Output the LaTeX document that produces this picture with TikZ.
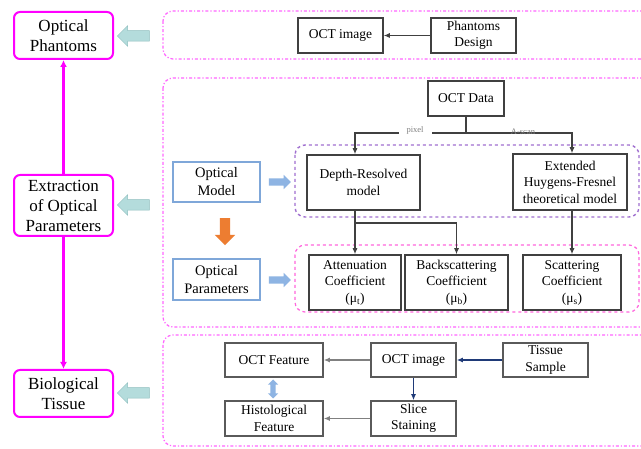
\documentclass[tikz,border=0pt]{standalone}
\usepackage{fontspec}
\setmainfont{Liberation Serif}
\usetikzlibrary{shapes.arrows,arrows.meta,calc}
\definecolor{mag}{HTML}{FF00FF}
\definecolor{regc}{HTML}{FF66FF}
\definecolor{purc}{HTML}{A070D0}
\definecolor{pinkc}{HTML}{FF66DD}
\definecolor{boxc}{HTML}{404040}
\definecolor{lowc}{HTML}{5A5A5A}
\definecolor{bluec}{HTML}{7FA7D9}
\definecolor{barr}{HTML}{8EB4E3}
\definecolor{tealc}{HTML}{B4DCDC}
\definecolor{teald}{HTML}{8FBFBF}
\definecolor{orangec}{HTML}{ED7D31}
\definecolor{navy}{HTML}{1F3A78}
\definecolor{grayarr}{HTML}{808080}
\tikzset{
 lbox/.style={draw=mag, line width=2pt, rounded corners=6pt, fill=white, align=center, font=\fontsize{17}{20}\selectfont, inner sep=0pt},
 box/.style={draw=boxc, line width=1.5pt, fill=white, align=center, font=\fontsize{13.5}{16.5}\selectfont, inner sep=0pt},
 lowbox/.style={draw=lowc, line width=1.5pt, fill=white, align=center, font=\fontsize{13.5}{16.5}\selectfont, inner sep=0pt},
 bbox/.style={draw=bluec, line width=1.3pt, fill=white, align=center, font=\fontsize{14.5}{18}\selectfont, inner sep=0pt},
 region/.style={draw=regc, line width=1.2pt, dash dot, rounded corners=10pt},
 purreg/.style={draw=purc, line width=1.4pt, dashed, rounded corners=10pt},
 pinkreg/.style={draw=pinkc, line width=1.2pt, dashed, rounded corners=10pt},
 tarrow/.style={single arrow, shape border rotate=180, fill=tealc, draw=teald, line width=0.5pt, inner sep=5pt, single arrow head extend=5pt, minimum height=32pt},
 barrow/.style={single arrow, fill=barr, draw=none, inner sep=3.5pt, single arrow head extend=3.5pt, minimum height=22pt},
 oarrow/.style={single arrow, shape border rotate=270, fill=orangec, draw=none, inner sep=5pt, single arrow head extend=5pt, minimum height=27pt},
 darrow/.style={double arrow, shape border rotate=90, fill=barr, draw=none, inner sep=2.5pt, double arrow head extend=2.5pt, minimum height=19pt},
 arr/.style={draw=boxc, line width=1.1pt, -{Latex[length=6pt,width=5pt]}},
 navarr/.style={draw=navy, line width=1.2pt, -{Latex[length=6pt,width=5pt]}},
 grarr/.style={draw=grayarr, line width=1.2pt, -{Latex[length=6pt,width=5pt]}},
 magarr/.style={draw=mag, line width=2.5pt, -{Latex[length=7pt,width=7pt]}},
 lbl/.style={font=\fontsize{8.5}{9}\selectfont, text=gray, inner sep=1pt}
}
\begin{document}
\begin{tikzpicture}[x=1pt,y=-1pt]
\useasboundingbox (0,0) rectangle (641,449);
\clip (0,0) rectangle (641,449);
\fill[white] (0,0) rectangle (641,449);
% regions
\draw[region] (163,11) rectangle (670,59);
\draw[region] (163,78) rectangle (670,327);
\draw[region] (163,335) rectangle (670,446);
\draw[purreg] (295,145) rectangle (639,217);
\draw[pinkreg] (295,245) rectangle (639,312);
% left column
\node[lbox, minimum width=99pt, minimum height=47pt] (phant) at (63.5,35.5) {Optical\\Phantoms};
\node[lbox, minimum width=99pt, minimum height=61pt] (extr) at (63.5,205.5) {Extraction\\of Optical\\Parameters};
\node[lbox, minimum width=99pt, minimum height=47pt] (bio) at (63.5,393.5) {Biological\\Tissue};
\draw[magarr] (extr.north) -- (phant.south);
\draw[magarr] (extr.south) -- (bio.north);
\node[tarrow] (ta1) at (136,36) {};
\node[tarrow] (ta2) at (136,205) {};
\node[tarrow] (ta3) at (136,393) {};
% top section
\node[box, minimum width=85pt, minimum height=35pt] (octimg1) at (340.5,35.5) {OCT image};
\node[box, minimum width=85pt, minimum height=35pt] (pdesign) at (473.5,35.5) {Phantoms\\Design};
\draw[arr] (pdesign) -- (octimg1);
% middle section
\node[box, minimum width=76pt, minimum height=35pt] (octdata) at (466,98.5) {OCT Data};
\node[box, minimum width=113pt, minimum height=55pt] (depth) at (363.5,182.5) {Depth-Resolved\\model};
\node[box, minimum width=114pt, minimum height=56pt] (ehf) at (570,182) {Extended\\Huygens-Fresnel\\theoretical model};
\node[box, minimum width=92pt, minimum height=55pt] (atten) at (355,282.5) {Attenuation\\Coefficient\\(μ\textsubscript{t})};
\node[box, minimum width=103pt, minimum height=55pt] (back) at (456.5,282.5) {Backscattering\\Coefficient\\(μ\textsubscript{b})};
\node[box, minimum width=98pt, minimum height=55pt] (scat) at (572,282.5) {Scattering\\Coefficient\\(μ\textsubscript{s})};
\coordinate (split) at (466,133);
\coordinate (br) at (355,223);
\draw[boxc, line width=1.1pt] (octdata.south) -- (split);
\draw[arr] (split) -| ([xshift=-8.5pt]depth.north);
\draw[arr] (split) -| ([xshift=2pt]ehf.north);
\node[lbl, fill=white, inner xsep=8pt] (pix) at (415,130.5) {pixel};
\node[lbl] (asc) at (523,131.5) {A-scan};
\draw[arr] ([xshift=-8.5pt]depth.south) -- (atten.north);
\draw[arr] (br) -| (back.north);
\draw[arr] ([xshift=2pt]ehf.south) -- (scat.north);
\node[bbox, minimum width=87pt, minimum height=40pt] (omodel) at (216.5,182) {Optical\\Model};
\node[bbox, minimum width=87pt, minimum height=41pt] (oparam) at (216.5,279.5) {Optical\\Parameters};
\node[barrow] (ba1) at (278,182) {};
\node[barrow] (ba2) at (278,280) {};
\node[oarrow] (oa) at (225,229) {};
% bottom section
\node[lowbox, minimum width=98pt, minimum height=34pt] (octfeat) at (274,360) {OCT Feature};
\node[lowbox, minimum width=98pt, minimum height=35pt] (histo) at (274,418.5) {Histological\\Feature};
\node[lowbox, minimum width=85pt, minimum height=34pt] (octimg2) at (413.5,360) {OCT image};
\node[lowbox, minimum width=85pt, minimum height=34pt] (tissue) at (545.5,360) {Tissue\\Sample};
\node[lowbox, minimum width=85pt, minimum height=35pt] (slice) at (413.5,418.5) {Slice\\Staining};
\node[darrow] (da) at (273,389) {};
\draw[navarr] (tissue) -- (octimg2);
\draw[navarr] (octimg2) -- (slice);
\draw[grarr] (octimg2) -- (octfeat);
\draw[grarr] (slice) -- (histo);
\end{tikzpicture}
\end{document}
